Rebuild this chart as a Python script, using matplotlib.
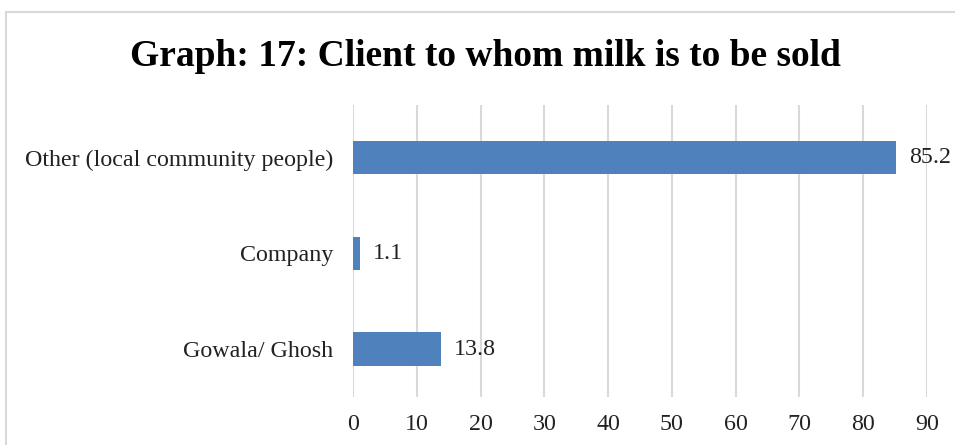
import matplotlib
matplotlib.use("Agg")
import matplotlib.pyplot as plt
from matplotlib.patches import Rectangle

categories = ["Gowala/ Ghosh", "Company", "Other (local community people)"]
values = [13.8, 1.1, 85.2]
xticks = [0, 10, 20, 30, 40, 50, 60, 70, 80, 90]

plt.rcParams['font.family'] = ['Liberation Serif', 'DejaVu Serif']

fig = plt.figure(figsize=(9.55, 4.45), dpi=100)
ax = fig.add_axes([0.3696, 0.108, 0.6011, 0.656])

# outer frame of the chart area
fig.patches.append(Rectangle((6 / 955, -0.1), 1.2, 1 - 12 / 445 + 0.1,
                             transform=fig.transFigure, fill=False,
                             edgecolor='#d9d9d9', linewidth=1.5))

pos = range(len(categories))
bars = ax.barh(pos, values, height=0.35, color='#4f81bd', zorder=3)
for b, v in zip(bars, values):
    ax.text(b.get_width() + 2.0, b.get_y() + b.get_height() / 2, f"{v}",
            va='center', ha='left', fontsize=17.3, color='#222222')

ax.set_xlim(0, 90)
ax.set_ylim(-0.5, 2.55)
ax.set_xticks(xticks)
ax.set_yticks(list(pos))
ax.set_yticklabels(categories)
ax.tick_params(axis='both', length=0, labelsize=17.3, colors='#222222')
ax.tick_params(axis='x', pad=12)
ax.tick_params(axis='y', pad=14)
ax.grid(axis='x', color='#d9d9d9', linewidth=1.5, zorder=0)
for s in ax.spines.values():
    s.set_visible(False)

fig.text(0.508, 0.872, "Graph: 17: Client to whom milk is to be sold",
         ha='center', va='center', fontsize=27, fontweight='bold')

fig.savefig("out.png", dpi=100)
